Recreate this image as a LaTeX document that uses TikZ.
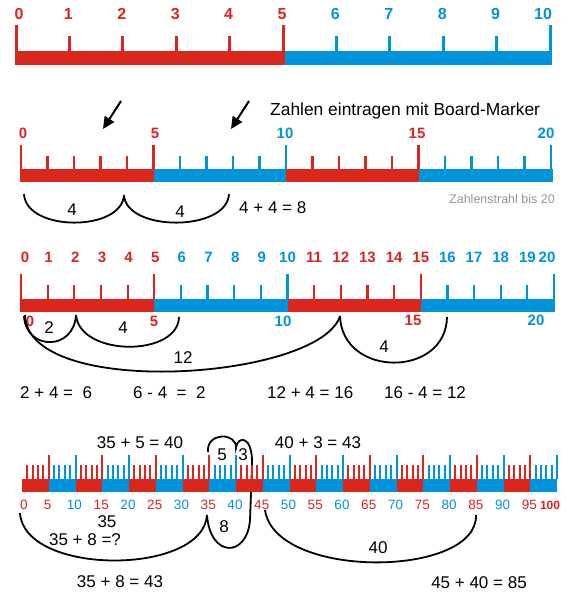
\documentclass[tikz,border=0pt]{standalone}
\usepackage{fontspec}
\setmainfont{Liberation Sans}
\usetikzlibrary{arrows.meta}
\definecolor{rred}{RGB}{218,38,29}
\definecolor{rblue}{RGB}{0,148,220}
\definecolor{capgray}{RGB}{150,150,150}
\begin{document}
\begin{tikzpicture}[x=1pt,y=-1pt,
  every node/.style={inner sep=0pt},
  labA/.style={font=\fontsize{16}{16}\selectfont\bfseries},
  labB/.style={font=\fontsize{15}{15}\selectfont\bfseries},
  labC/.style={font=\fontsize{13.5}{13.5}\selectfont},
  txt/.style={font=\fontsize{17}{17}\selectfont},
  jump/.style={line width=1.8pt, black},
  marker/.style={line width=2pt, black, -{Triangle[length=12pt,width=11pt]}},
  ]
\fill[white] (0,0) rectangle (568,593);
\useasboundingbox (0,0) rectangle (568,593);

% ---------------- Ruler 1 (0..10)
\fill[rred] (15,51) rectangle (285,65);
\fill[rblue] (285,51) rectangle (552,65);
\foreach \i in {0,...,10} {
  \pgfmathsetmacro\xx{16+53.4*\i}
  \pgfmathsetmacro\tp{(mod(\i,5)==0) ? 25 : 36}
  \pgfmathsetmacro\lx{\xx + ((\i==0) ? 3 : ((\i==10) ? -7 : -1))}
  \ifnum\i<6 \def\c{rred}\else\def\c{rblue}\fi
  \draw[\c, line width=3pt] (\xx,\tp) -- (\xx,51);
  \node[labA, text=\c] (ra\i) at (\lx,14) {\i};
}

% ---------------- Ruler 2 (0..20)
\fill[rred] (20,169) rectangle (153.5,182);
\fill[rblue] (153.5,169) rectangle (286,182);
\fill[rred] (286,169) rectangle (418.5,182);
\fill[rblue] (418.5,169) rectangle (553,182);
\foreach \i in {0,...,20} {
  \pgfmathsetmacro\xx{21+26.5*\i}
  \pgfmathsetmacro\tp{(mod(\i,5)==0) ? 145 : 156}
  \pgfmathtruncatemacro\blk{(\i==0) ? 0 : mod(floor((\i-1)/5),2)}
  \ifnum\blk=0 \def\c{rred}\else\def\c{rblue}\fi
  \draw[\c, line width=2.2pt] (\xx,\tp) -- (\xx,169);
}
\node[labB, text=rred] (rb0) at (23,133) {0};
\node[labB, text=rred] (rb5) at (155,133) {5};
\node[labB, text=rblue] (rb10) at (285,133) {10};
\node[labB, text=rred] (rb15) at (417,133) {15};
\node[labB, text=rblue] (rb20) at (546,133) {20};

\coordinate (a1s) at (121,101); \coordinate (a1e) at (103,129);
\coordinate (a2s) at (249,101); \coordinate (a2e) at (231,129);
\draw[marker] (a1s) -- (a1e);
\draw[marker] (a2s) -- (a2e);
\node[txt, font=\fontsize{17.4}{17.4}\selectfont, anchor=base west] (title) at (270,116) {Zahlen eintragen mit Board-Marker};
\node[text=capgray, font=\fontsize{12.5}{12.5}\selectfont, anchor=base east] (cap) at (555,204) {Zahlenstrahl bis 20};

\draw[jump] (24,194) .. controls (26,232) and (122,232) .. (124,195);
\draw[jump] (124,195) .. controls (126,232) and (227,232) .. (229,194);
\node[txt] (j1) at (72,210) {4};
\node[txt] (j2) at (180,212) {4};
\node[txt, anchor=west] (e0) at (239,208) {4 + 4 = 8};

% ---------------- Ruler 3 (0..20 all labels)
\fill[rred] (20,299) rectangle (154.25,312);
\fill[rblue] (154.25,299) rectangle (287.5,312);
\fill[rred] (287.5,299) rectangle (420.75,312);
\fill[rblue] (420.75,299) rectangle (555,312);
\foreach \i in {0,...,20} {
  \pgfmathsetmacro\xx{21+26.65*\i}
  \pgfmathsetmacro\tp{(mod(\i,5)==0) ? 274 : 285}
  \pgfmathsetmacro\lx{\xx + ((\i==0) ? 4 : ((\i==20) ? -7 : ((\i<10) ? 1 : 0)))}
  \pgfmathtruncatemacro\blk{(\i==0) ? 0 : mod(floor((\i-1)/5),2)}
  \ifnum\blk=0 \def\c{rred}\else\def\c{rblue}\fi
  \draw[\c, line width=2.2pt] (\xx,\tp) -- (\xx,299);
  \node[labB, text=\c] (rc\i) at (\lx,257) {\i};
}
\node[labB, text=rred] (rd0) at (30,321) {0};
\node[labB, text=rred] (rd5) at (154,321) {5};
\node[labB, text=rblue] (rd10) at (283,321) {10};
\node[labB, text=rred] (rd15) at (413,320) {15};
\node[labB, text=rblue] (rd20) at (536,320) {20};

\draw[jump] (24,316) .. controls (26,351) and (74,351) .. (76,315);
\draw[jump] (76,315) .. controls (80,357) and (178,357) .. (179,317);
\draw[jump] (25,315) .. controls (27,400) and (320,380) .. (340,316);
\draw[jump] (340,316) .. controls (342,378) and (446,378) .. (447,317);
\node[txt] (k1) at (49,328) {2};
\node[txt] (k2) at (123,328) {4};
\node[txt] (k3) at (183,358) {12};
\node[txt] (k4) at (384,347) {4};
\node[txt, anchor=west] (e1) at (20,393) {2 + 4 =\ \ 6};
\node[txt, anchor=west] (e2) at (133,393) {6 - 4\ \ =\ \ 2};
\node[txt, anchor=west] (e3) at (267,393) {12 + 4 = 16};
\node[txt, anchor=west] (e4) at (384,393) {16 - 4 = 12};

% ---------------- Ruler 4 (0..100) jumps first
\draw[jump] (20,513) .. controls (24,576) and (203,576) .. (207,515);
\draw[jump] (207,515) .. controls (210,558) and (247,558) .. (250,520) -- (251,493);
\draw[jump] (208,452) .. controls (206,432) and (237,432) .. (236,448)
            .. controls (237,436) and (253,434) .. (252,465) -- (251,493);
\draw[jump] (265,510) .. controls (275,580) and (478,578) .. (476,515);

\foreach \k in {0,...,19} {
  \pgfmathsetmacro\xa{22+26.75*\k}
  \pgfmathsetmacro\xb{\xa+26.75}
  \pgfmathtruncatemacro\m{mod(\k,2)}
  \ifnum\m=0 \def\c{rred}\else\def\c{rblue}\fi
  \fill[\c] (\xa,479) rectangle (\xb,492);
}
\foreach \k in {1,...,100} {
  \pgfmathsetmacro\xx{22+5.35*\k}
  \pgfmathsetmacro\tp{(mod(\k,5)==0) ? 455 : 465}
  \pgfmathtruncatemacro\blk{mod(floor((\k-1)/5),2)}
  \ifnum\blk=0 \def\c{rred}\else\def\c{rblue}\fi
  \draw[\c, line width=2pt] (\xx,\tp) -- (\xx,479);
}
\foreach \k in {0,5,...,95} {
  \pgfmathsetmacro\lx{22+5.35*\k + ((\k==0) ? 2 : -1)}
  \pgfmathtruncatemacro\bl{(\k==0) ? 0 : ((mod(\k,10)==0) ? 1 : 0)}
  \ifnum\bl=0 \def\c{rred}\else\def\c{rblue}\fi
  \node[labC, text=\c] (re\k) at (\lx,505) {\k};
}
\node[text=rred, font=\fontsize{12}{12}\selectfont\bfseries] (re100) at (550,505) {100};

\node[txt] (m1) at (140,443) {35 + 5 = 40};
\node[txt] (m2) at (318,443) {40 + 3 = 43};
\node[txt] (m3) at (222,455) {5};
\node[txt] (m4) at (243,455) {3};
\node[txt] (m5) at (107,522) {35};
\node[txt] (m6) at (85,540) {35 + 8 =?};
\node[txt] (m7) at (224,527) {8};
\node[txt] (m8) at (378,548) {40};
\node[txt] (m9) at (120,582) {35 + 8 = 43};
\node[txt] (m10) at (479,583) {45 + 40 = 85};
\end{tikzpicture}
\end{document}
